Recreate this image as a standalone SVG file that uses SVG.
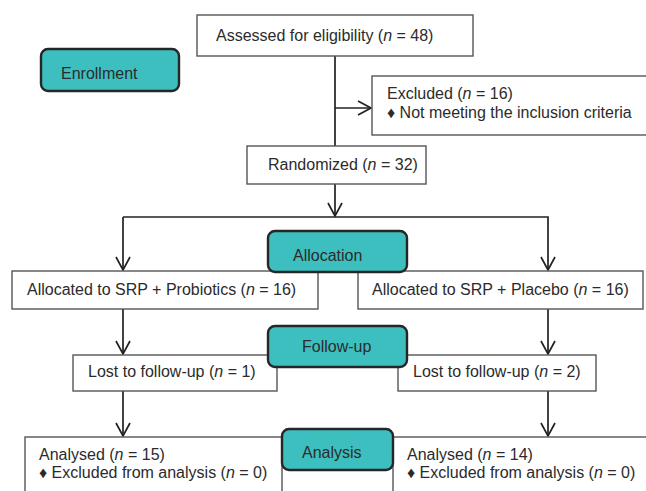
<svg xmlns="http://www.w3.org/2000/svg" width="646" height="491" viewBox="0 0 646 491">
<defs>
<style>
.box{fill:#fff;stroke:#555;stroke-width:1.4}
.lab{fill:#3dbfbf;stroke:#262626;stroke-width:2.4}
.t{font-family:"Liberation Sans",Arial,sans-serif;font-size:16px;fill:#2b2b2b}
.c{fill:none;stroke:#222;stroke-width:1.7}
</style>
<marker id="ah" viewBox="-15 -9 17 18" refX="0" refY="0" markerWidth="17" markerHeight="18" markerUnits="userSpaceOnUse" orient="auto">
<path d="M-13,-7 L0,0 L-13,7" fill="none" stroke="#222" stroke-width="1.7"/>
</marker>
</defs>
<rect width="646" height="491" fill="#fff"/>
<g id="connectors">
<line class="c" x1="335" y1="56" x2="335" y2="146"/>
<line class="c" x1="335" y1="108" x2="371" y2="108" marker-end="url(#ah)"/>
<line class="c" x1="335" y1="184" x2="335" y2="216" marker-end="url(#ah)"/>
<polyline class="c" points="123,217 548,217 548,270" marker-end="url(#ah)"/>
<line class="c" x1="123" y1="217" x2="123" y2="270" marker-end="url(#ah)"/>
<line class="c" x1="123" y1="309" x2="123" y2="354" marker-end="url(#ah)"/>
<line class="c" x1="548" y1="309" x2="548" y2="354" marker-end="url(#ah)"/>
<line class="c" x1="123" y1="391" x2="123" y2="436" marker-end="url(#ah)"/>
<line class="c" x1="548" y1="391" x2="548" y2="436" marker-end="url(#ah)"/>
</g>
<g id="assessed">
<rect class="box" x="197" y="15" width="276" height="41"/>
<text class="t" x="216" y="41">Assessed for eligibility (<tspan font-style="italic">n</tspan> = 48)</text>
</g>
<g id="enrollment">
<rect class="lab" x="41" y="49" width="138" height="42" rx="7"/>
<text class="t" x="61" y="79">Enrollment</text>
</g>
<g id="excluded">
<rect class="box" x="372" y="76" width="280" height="59"/>
<text class="t" x="387" y="99">Excluded (<tspan font-style="italic">n</tspan> = 16)</text>
<text class="t" x="387" y="118">♦ Not meeting the inclusion criteria</text>
</g>
<g id="randomized">
<rect class="box" x="247" y="146" width="179" height="38"/>
<text class="t" x="268" y="170">Randomized (<tspan font-style="italic">n</tspan> = 32)</text>
</g>
<g id="alloc-left">
<rect class="box" x="12" y="271" width="306" height="38"/>
<text class="t" x="27" y="295">Allocated to SRP + Probiotics (<tspan font-style="italic">n</tspan> = 16)</text>
</g>
<g id="alloc-right">
<rect class="box" x="358" y="271" width="285" height="38"/>
<text class="t" x="372" y="295">Allocated to SRP + Placebo (<tspan font-style="italic">n</tspan> = 16)</text>
</g>
<g id="allocation">
<rect class="lab" x="268" y="231" width="139" height="41" rx="7"/>
<text class="t" x="293" y="261">Allocation</text>
</g>
<g id="lost-left">
<rect class="box" x="73" y="355" width="204" height="36"/>
<text class="t" x="88" y="377">Lost to follow-up (<tspan font-style="italic">n</tspan> = 1)</text>
</g>
<g id="lost-right">
<rect class="box" x="398" y="355" width="198" height="36"/>
<text class="t" x="413" y="377">Lost to follow-up (<tspan font-style="italic">n</tspan> = 2)</text>
</g>
<g id="followup">
<rect class="lab" x="268" y="326" width="139" height="41" rx="7"/>
<text class="t" x="302" y="352">Follow-up</text>
</g>
<g id="analysed-left">
<rect class="box" x="25" y="437" width="257" height="70"/>
<text class="t" x="39" y="460">Analysed (<tspan font-style="italic">n</tspan> = 15)</text>
<text class="t" x="39" y="478">♦ Excluded from analysis (<tspan font-style="italic">n</tspan> = 0)</text>
</g>
<g id="analysed-right">
<rect class="box" x="393" y="437" width="270" height="70"/>
<text class="t" x="407" y="460">Analysed (<tspan font-style="italic">n</tspan> = 14)</text>
<text class="t" x="407" y="478">♦ Excluded from analysis (<tspan font-style="italic">n</tspan> = 0)</text>
</g>
<g id="analysis">
<rect class="lab" x="282" y="429" width="111" height="41" rx="7"/>
<text class="t" x="302" y="458">Analysis</text>
</g>
</svg>
